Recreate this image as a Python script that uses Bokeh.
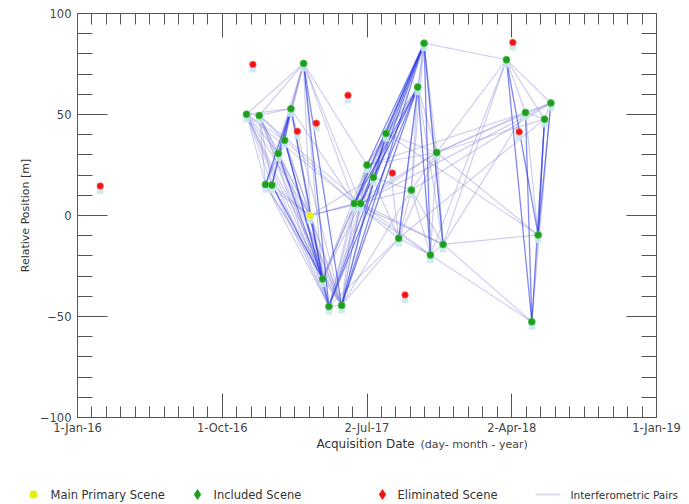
import numpy as np
import pandas as pd
from bokeh.plotting import figure
from bokeh.layouts import column, row
from bokeh.models import Range1d, FixedTicker, LinearAxis, ColumnDataSource
from bokeh.core.properties import value
from bokeh.embed import file_html
from bokeh.resources import INLINE

# ---------------- data ----------------
START = "2016-01-01"
tick_dates = ["2016-01-01", "2016-10-01", "2017-07-02", "2018-04-02", "2019-01-01"]
tick_labels = ["1-Jan-16", "1-Oct-16", "2-Jul-17", "2-Apr-18", "1-Jan-19"]
y_ticks = [-100, -50, 0, 50, 100]

# network scenes (in time order); index 8 is the main primary scene
scene_dates = ["2016-11-16", "2016-12-10", "2016-12-22", "2017-01-03", "2017-01-15",
               "2017-01-27", "2017-02-08", "2017-03-04", "2017-03-16", "2017-04-09",
               "2017-04-21", "2017-05-15", "2017-06-08", "2017-06-20", "2017-07-02",
               "2017-07-14", "2017-08-07", "2017-08-31", "2017-09-24", "2017-10-06",
               "2017-10-18", "2017-10-30", "2017-11-11", "2017-11-23", "2018-03-23",
               "2018-04-28", "2018-05-10", "2018-05-22", "2018-06-03", "2018-06-15"]
scene_pos = [50.1, 49.5, 15.4, 15.1, 30.7, 37.3, 52.9, 75.3, 0.0, -31.4,
             -45.0, -44.5, 6.0, 6.0, 25.0, 18.9, 40.6, -11.3, 12.6, 63.6,
             85.3, -19.5, 31.2, -14.3, 77.1, 51.0, -52.6, -9.6, 47.7, 55.7]
main_index = 8

elim_dates = ["2016-02-13", "2016-11-28", "2017-02-20", "2017-03-28", "2017-05-27",
              "2017-08-19", "2017-09-12", "2018-04-04", "2018-04-16"]
elim_pos = [14.6, 74.8, 41.7, 45.7, 59.5, 21.0, -39.3, 85.7, 41.4]

legend_labels = ["Main Primary Scene", "Included Scene", "Eliminated Scene",
                 "Interferometric Pairs"]
x_title = "Acquisition Date"
x_subtitle = "(day- month - year)"
y_title = "Relative Position [m]"

# interferometric pairs (scene indices)
pairs_faint = [
    (0, 1), (0, 2), (0, 3), (0, 4), (0, 5), (0, 6), (0, 7), (0, 8),
    (1, 2), (1, 3), (1, 4), (1, 5), (1, 6), (1, 7), (1, 8),
    (2, 3), (2, 4), (2, 5), (2, 7), (2, 8),
    (3, 4), (3, 5), (3, 7), (3, 8), (4, 5), (4, 7), (4, 8), (5, 7), (5, 8),
    (6, 7), (6, 8), (7, 8),
    (0, 9), (0, 10), (0, 11), (1, 9), (1, 10), (1, 11), (2, 9), (2, 10), (2, 11),
    (3, 10), (3, 11), (4, 10), (4, 11), (5, 11), (6, 10), (6, 11), (8, 10), (8, 11), (7, 9),
    (0, 12), (1, 13), (6, 12), (7, 12), (7, 13), (7, 14), (8, 12), (8, 13), (8, 15),
    (8, 18), (5, 12),
    (9, 10), (9, 11), (10, 11), (9, 12), (9, 13), (10, 12), (10, 13), (11, 12), (11, 13),
    (9, 14), (10, 14), (11, 14), (9, 16), (10, 16), (11, 15), (11, 17), (10, 17),
    (11, 18), (9, 20),
    (12, 13), (12, 14), (12, 15), (12, 16), (12, 17), (12, 21), (12, 22), (12, 23),
    (13, 14), (13, 15), (13, 16), (13, 21), (13, 22), (13, 23), (14, 15), (14, 16),
    (14, 17), (14, 19), (14, 22), (15, 16), (15, 18), (15, 19), (15, 20), (16, 17),
    (16, 19), (16, 22), (17, 18), (17, 20), (17, 22), (18, 19), (18, 20), (18, 22),
    (19, 20), (19, 22), (19, 23), (20, 22), (20, 23), (21, 22), (21, 23), (22, 23),
    (17, 21), (18, 21), (18, 23),
    (13, 29), (14, 25), (16, 27), (17, 28), (18, 29), (21, 24), (21, 26), (22, 24),
    (22, 25), (22, 27), (22, 28), (22, 29), (23, 24), (23, 25), (23, 26), (23, 27),
    (20, 24),
    (24, 25), (24, 28), (24, 29), (25, 27), (25, 28), (25, 29), (26, 27), (26, 29),
    (27, 28), (28, 29)]
pairs_strong = [
    (6, 2), (6, 3), (6, 4), (6, 5), (4, 9), (5, 9), (5, 10), (6, 9), (7, 10), (7, 11),
    (3, 9), (8, 9), (10, 19), (10, 20), (11, 19), (11, 20), (12, 19), (12, 20),
    (13, 19), (13, 20), (11, 16), (16, 20), (14, 20), (19, 21), (20, 21), (19, 17),
    (20, 23), (24, 26), (24, 27), (25, 26), (28, 26), (29, 27), (28, 27)]

# ---------------- colours / fonts ----------------
FONT = "DejaVu Sans"
AXC = "#555555"
C_MAIN = "#e6ee10"
C_INCL = "#1d9e1d"
C_ELIM = "#f01414"
C_PAIR_LEG = "#dedee8"

# ---------------- helpers ----------------
def to_days(dates):
    return [float(d) for d in (pd.to_datetime(dates) - pd.Timestamp(START)).days]

scene_x = to_days(scene_dates)
elim_x = to_days(elim_dates)
major_x = to_days(tick_dates)
minor_x = []
for a, b in zip(major_x[:-1], major_x[1:]):
    minor_x += list(np.linspace(a, b, 11)[1:-1])

incl_idx = [i for i in range(len(scene_x)) if i != main_index]

def seg_source(pairs):
    return ColumnDataSource(dict(
        xs=[[scene_x[a], scene_x[b]] for a, b in pairs],
        ys=[[scene_pos[a], scene_pos[b]] for a, b in pairs]))

# ---------------- main figure ----------------
p = figure(width=689, height=437, x_range=Range1d(0, major_x[-1]),
           y_range=Range1d(-100, 100), output_backend="svg", toolbar_location=None,
           min_border_left=77, min_border_right=33, min_border_top=13,
           min_border_bottom=20, background_fill_color="white",
           border_fill_color="white")
p.grid.visible = False
p.outline_line_color = AXC

xt = FixedTicker(ticks=major_x, minor_ticks=minor_x)
yt = FixedTicker(ticks=y_ticks, minor_ticks=list(range(-100, 101, 10)))

xa = p.xaxis[0]
xa.ticker = xt
xa.major_label_overrides = {int(v): lab for v, lab in zip(major_x, tick_labels)}
xa.major_label_standoff = 3
ya = p.yaxis[0]
ya.ticker = yt
ya.axis_label = y_title
ya.axis_label_standoff = 5
ya.major_label_standoff = 6

top = LinearAxis(ticker=xt, major_label_standoff=0,
                 major_label_overrides={int(v): "" for v in major_x})
right = LinearAxis(ticker=yt, major_label_standoff=0,
                   major_label_overrides={v: "" for v in y_ticks})
p.add_layout(top, "above")
p.add_layout(right, "right")

for ax in [xa, top]:
    ax.major_tick_in = 24
    ax.minor_tick_in = 11
for ax in [ya, right]:
    ax.major_tick_in = 30
    ax.minor_tick_in = 15
for ax in [xa, top, ya, right]:
    ax.major_tick_out = 0
    ax.minor_tick_out = 0
    ax.axis_line_color = AXC
    ax.major_tick_line_color = AXC
    ax.minor_tick_line_color = AXC
    ax.major_label_text_font = FONT
    ax.major_label_text_color = "#444444"
    ax.major_label_text_font_size = "11.5px"
    ax.axis_label_text_font = FONT
    ax.axis_label_text_font_style = "normal"
    ax.axis_label_text_color = "#333333"
ya.axis_label_text_font_size = "11px"

# pairs
p.multi_line(xs="xs", ys="ys", source=seg_source(pairs_faint),
             line_color="#8a8ad8", line_alpha=0.42, line_width=1.2)
p.multi_line(xs="xs", ys="ys", source=seg_source(pairs_strong),
             line_color="#2c3ae2", line_alpha=0.6, line_width=1.3)

# pale blobs beneath each scene marker
all_x = scene_x + elim_x
all_y = scene_pos + elim_pos
p.scatter(all_x, [y - 2.4 for y in all_y], marker="square", size=6.5,
          fill_color="#cde6ee", line_color=None, fill_alpha=0.9)

# markers
p.scatter([scene_x[i] for i in incl_idx], [scene_pos[i] for i in incl_idx],
          marker="circle", size=7, fill_color=C_INCL, line_color="#4cc24c",
          line_width=0.8)
p.scatter(elim_x, elim_pos, marker="circle", size=6.5, fill_color=C_ELIM,
          line_color="#ff5a5a", line_width=0.8)
p.scatter([scene_x[main_index]], [scene_pos[main_index]], marker="circle", size=7,
          fill_color=C_MAIN, line_color="#f0f070", line_width=0.8)

# ---------------- bottom strip: axis title + legend (page-pixel coordinates) ----------------
q = figure(width=689, height=67, x_range=Range1d(0, 689), y_range=Range1d(504, 437),
           output_backend="svg", toolbar_location=None, min_border=0,
           outline_line_color=None, background_fill_color="white",
           border_fill_color="white")
q.axis.visible = False
q.grid.visible = False

q.text(x=[365], y=[443], text=[x_title], text_font=value(FONT),
       text_font_size="12px", text_align="center", text_baseline="middle",
       text_color="#333333")
q.text(x=[420], y=[444], text=[x_subtitle], text_font=value(FONT),
       text_font_size="11px", text_align="left", text_baseline="middle",
       text_color="#444444")

leg_y = 494
q.scatter([33], [leg_y], marker="circle", size=8, fill_color=C_MAIN, line_color=None)
q.scatter([197], [leg_y], marker="diamond", size=11, fill_color=C_INCL, line_color=None)
q.scatter([382], [leg_y], marker="diamond", size=11, fill_color=C_ELIM, line_color=None)
q.line([535, 560], [leg_y, leg_y], line_color=C_PAIR_LEG, line_width=2)
q.text(x=[50, 213, 397], y=[leg_y] * 3, text=legend_labels[:3],
       text_font=value(FONT), text_font_size="11.5px", text_align="left",
       text_baseline="middle", text_color="#333333")
q.text(x=[570], y=[leg_y], text=legend_labels[3:],
       text_font=value(FONT), text_font_size="10.5px", text_align="left",
       text_baseline="middle", text_color="#333333")

layout = column(p, row(q, spacing=0), spacing=0)
open("out.html", "w").write(file_html(layout, INLINE))
